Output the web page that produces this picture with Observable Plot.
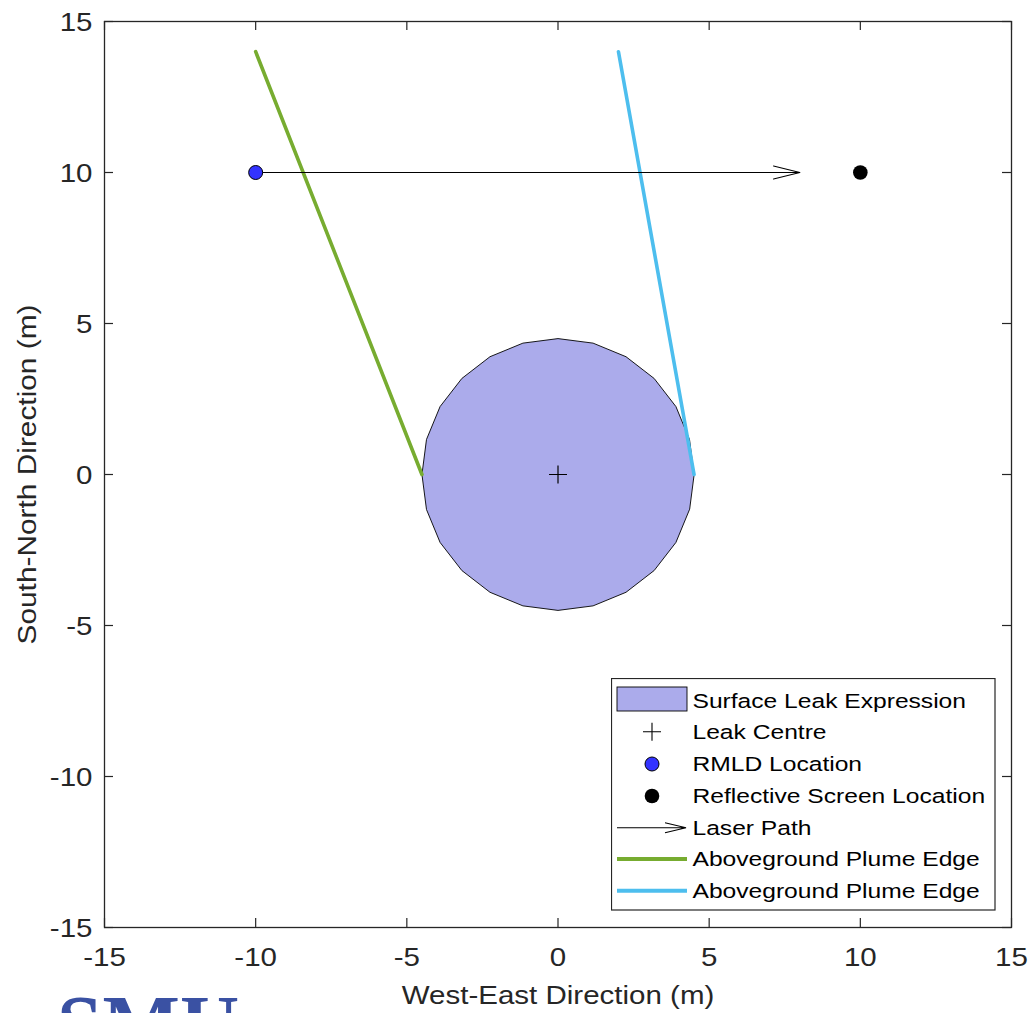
<!DOCTYPE html>
<html><head><meta charset="utf-8">
<script src="https://cdn.jsdelivr.net/npm/d3@7"></script>
<script src="https://cdn.jsdelivr.net/npm/@observablehq/plot@0.6"></script>
<style>
html,body{margin:0;padding:0;background:#fff;overflow:hidden;}
#wrap{position:relative;width:1030px;height:1013px;overflow:hidden;background:#fff;}
#legend{position:absolute;left:611px;top:678px;}
#logo{position:absolute;left:57px;top:984px;font-family:"Liberation Serif","DejaVu Serif",serif;font-weight:bold;font-size:82px;line-height:1;color:#3a51a3;letter-spacing:0px;}
</style></head><body><div id="wrap"></div>
<script>
// ---- data ----
const xTicks = [-15, -10, -5, 0, 5, 10, 15];
const yTicks = [-15, -10, -5, 0, 5, 10, 15];
const leakX = [4.5, 4.35, 3.9, 3.18, 2.25, 1.16, 0, -1.16, -2.25, -3.18, -3.9, -4.35, -4.5, -4.35, -3.9, -3.18, -2.25, -1.16, 0, 1.16, 2.25, 3.18, 3.9, 4.35];
const leakY = [0, 1.16, 2.25, 3.18, 3.9, 4.35, 4.5, 4.35, 3.9, 3.18, 2.25, 1.16, 0, -1.16, -2.25, -3.18, -3.9, -4.35, -4.5, -4.35, -3.9, -3.18, -2.25, -1.16];
const leakCentreX = [0], leakCentreY = [0];
const rmldX = [-10], rmldY = [10];
const screenX = [10], screenY = [10];
const laserX = [-10, 8], laserY = [10, 10];
const greenX = [-10, -4.5], greenY = [14, 0];
const blueX = [2, 4.5], blueY = [14, 0];
const legendLabels = ["Surface Leak Expression", "Leak Centre", "RMLD Location", "Reflective Screen Location", "Laser Path", "Aboveground Plume Edge", "Aboveground Plume Edge"];
const xLabel = "West-East Direction (m)";
const yLabel = "South-North Direction (m)";

const toPts = (xs, ys) => xs.map((x, i) => ({x, y: ys[i]}));
const leak = toPts(leakX, leakY);
const green = toPts(greenX, greenY);
const blue = toPts(blueX, blueY);
const laser = [{x1: laserX[0], y1: laserY[0], x2: laserX[1], y2: laserY[1]}];

const W = 1030, Hgt = 1013, mL = 104, mR = 19, mT = 21, mB = 86;
const fw = W - mL - mR, fh = Hgt - mT - mB, tk = 9;
const axc = "#262626";
const yLabelLen = 340;

const chart = Plot.plot({
  width: W, height: Hgt,
  marginLeft: mL, marginRight: mR, marginTop: mT, marginBottom: mB,
  x: {domain: [-15, 15], axis: null},
  y: {domain: [-15, 15], axis: null},
  style: {fontFamily: "'Liberation Sans', Arial, sans-serif", background: "#fff", color: axc},
  marks: [
    Plot.line(leak, {x: "x", y: "y", curve: "linear-closed", fill: "#ababeb", stroke: "#000", strokeWidth: 0.9}),
    Plot.line(green, {x: "x", y: "y", stroke: "#77ac30", strokeWidth: 3.6}),
    Plot.line(blue, {x: "x", y: "y", stroke: "#4dbeee", strokeWidth: 3.6}),
    Plot.arrow(laser, {x1: "x1", y1: "y1", x2: "x2", y2: "y2", stroke: "#000", strokeWidth: 1.1, headAngle: 28, headLength: 37}),
    Plot.dot(toPts(leakCentreX, leakCentreY), {x: "x", y: "y", symbol: "plus", r: 5.85, stroke: "#000", strokeWidth: 1.2}),
    Plot.dot(toPts(rmldX, rmldY), {x: "x", y: "y", r: 7, fill: "#3333ff", stroke: "#000", strokeWidth: 1}),
    Plot.dot(toPts(screenX, screenY), {x: "x", y: "y", r: 7.3, fill: "#000"}),
    Plot.frame({stroke: axc, strokeWidth: 1.3}),
    Plot.ruleX(xTicks, {x: d => d, stroke: axc, strokeWidth: 1.2, insetTop: fh - tk}),
    Plot.ruleX(xTicks, {x: d => d, stroke: axc, strokeWidth: 1.2, insetBottom: fh - tk}),
    Plot.ruleY(yTicks, {y: d => d, stroke: axc, strokeWidth: 1.2, insetRight: fw - tk}),
    Plot.ruleY(yTicks, {y: d => d, stroke: axc, strokeWidth: 1.2, insetLeft: fw - tk}),
    Plot.text(xTicks, {x: d => d, text: d => String(d), frameAnchor: "bottom", dy: 38, fontSize: 25, fill: axc}),
    Plot.text(yTicks, {y: d => d, text: d => String(d), frameAnchor: "left", dx: -12, dy: 1, textAnchor: "end", fontSize: 25, fill: axc}),
    Plot.text([xLabel], {text: d => d, frameAnchor: "bottom", dy: 76, fontSize: 25, fill: axc}),
    Plot.text([yLabel], {text: d => d, frameAnchor: "left", dx: -77, dy: yLabelLen / 2, textAnchor: "start", rotate: -90, fontSize: 25, fill: axc})
  ]
});
const wrap = document.getElementById("wrap");
wrap.appendChild(chart);

// legend
const lg = d3.create("svg").attr("id", "legend").attr("width", 385).attr("height", 233);
lg.append("rect").attr("x", 0.5).attr("y", 0.5).attr("width", 383.5).attr("height", 231.5).attr("fill", "#fff").attr("stroke", axc).attr("stroke-width", 1.2);
const rowY = [22.7, 53.7, 86, 118, 149.7, 181, 212.7];
const sx0 = 6, sx1 = 76, scx = 41;
lg.append("rect").attr("x", sx0).attr("y", 9).attr("width", sx1 - sx0).attr("height", 24).attr("fill", "#ababeb").attr("stroke", "#000").attr("stroke-width", 0.9);
lg.append("path").attr("d", `M${scx-9},${rowY[1]}H${scx+9}M${scx},${rowY[1]-9}V${rowY[1]+9}`).attr("stroke", "#000").attr("stroke-width", 1.1);
lg.append("circle").attr("cx", scx).attr("cy", rowY[2]).attr("r", 7).attr("fill", "#3333ff").attr("stroke", "#000");
lg.append("circle").attr("cx", scx).attr("cy", rowY[3]).attr("r", 7.3).attr("fill", "#000");
lg.append("path").attr("d", `M${sx0},${rowY[4]}H${sx1-1}M${sx1-22},${rowY[4]-5}L${sx1-1},${rowY[4]}L${sx1-22},${rowY[4]+5}`).attr("fill", "none").attr("stroke", "#000").attr("stroke-width", 1.1);
lg.append("line").attr("x1", sx0).attr("x2", sx1).attr("y1", rowY[5]).attr("y2", rowY[5]).attr("stroke", "#77ac30").attr("stroke-width", 4);
lg.append("line").attr("x1", sx0).attr("x2", sx1).attr("y1", rowY[6]).attr("y2", rowY[6]).attr("stroke", "#4dbeee").attr("stroke-width", 4);
lg.selectAll("text.l").data(legendLabels).join("text").attr("class", "l")
  .attr("x", 81.5).attr("y", (d, i) => rowY[i] + 7.4)
  .attr("font-family", "'Liberation Sans', Arial, sans-serif").attr("font-size", 20.5).attr("fill", "#000")
  .text(d => d);
wrap.appendChild(lg.node());

const logo = document.createElement("div");
logo.id = "logo"; logo.textContent = "SMU";
wrap.appendChild(logo);

// widen glyphs to match the reference's wide sans face
function stretch(root, f) {
  root.querySelectorAll("text").forEach(t => {
    const L = t.getComputedTextLength();
    if (L > 0) {
      const target = t.textContent === yLabel ? yLabelLen : L * f;
      t.setAttribute("textLength", target.toFixed(2));
      t.setAttribute("lengthAdjust", "spacingAndGlyphs");
    }
  });
}
stretch(chart, 1.18);
stretch(lg.node(), 1.2);
</script>
</body></html>
